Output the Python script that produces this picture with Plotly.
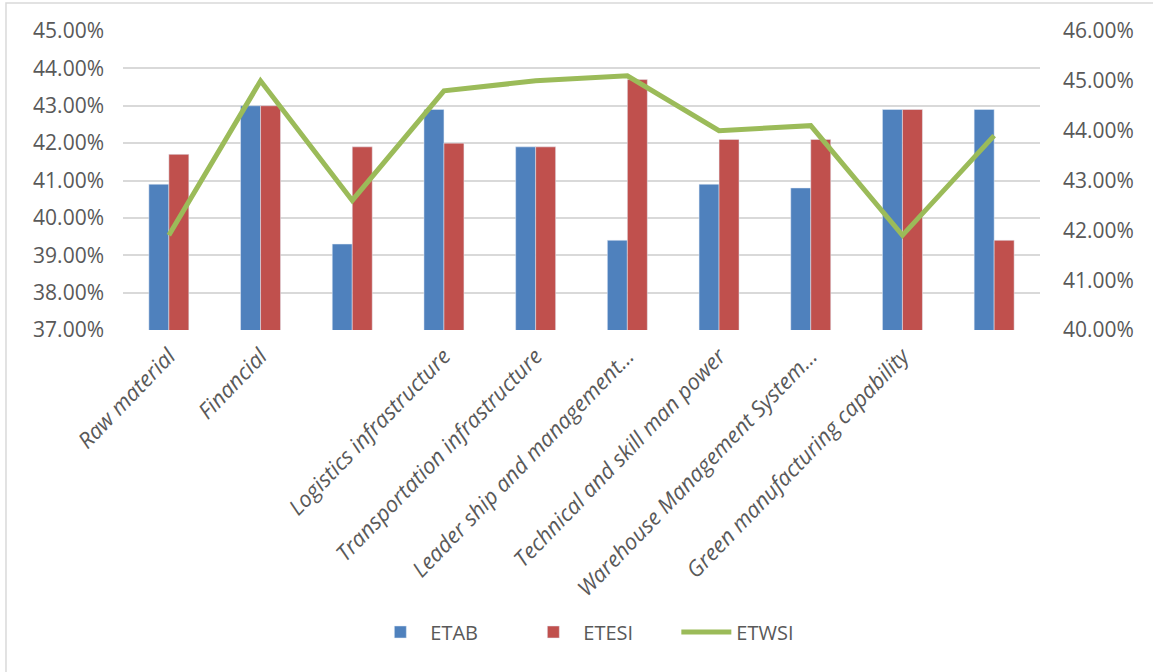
import plotly.graph_objects as go

categories = ["Raw material", "Financial", "", "Logistics infrastructure",
              "Transportation infrastructure", "Leader ship and management…",
              "Technical and skill man power", "Warehouse Management System…",
              "Green manufacturing capability", ""]
etab = [40.9, 43.0, 39.3, 42.9, 41.9, 39.4, 40.9, 40.8, 42.9, 42.9]
etesi = [41.7, 43.0, 41.9, 42.0, 41.9, 43.7, 42.1, 42.1, 42.9, 39.4]
etwsi = [41.9, 45.0, 42.6, 44.8, 45.0, 45.1, 44.0, 44.1, 41.9, 43.9]
left_ticks = [37, 38, 39, 40, 41, 42, 43, 44, 45]
left_labels = ["37.00%", "38.00%", "39.00%", "40.00%", "41.00%", "42.00%", "43.00%", "44.00%", "45.00%"]
right_ticks = [40, 41, 42, 43, 44, 45, 46]
right_labels = ["40.00%", "41.00%", "42.00%", "43.00%", "44.00%", "45.00%", "46.00%"]

idx = list(range(len(categories)))
FONT = "Open Sans"
GREY = "#595959"

fig = go.Figure()
fig.add_trace(go.Bar(x=idx, y=etab, name="ETAB", marker=dict(color="#4f81bd")))
fig.add_trace(go.Bar(x=idx, y=etesi, name="ETESI", marker=dict(color="#c0504d")))
fig.add_trace(go.Scatter(x=idx, y=etwsi, name="ETWSI", mode="lines", yaxis="y2",
                         line=dict(color="#9bbb59", width=5)))

fig.update_layout(
    width=1153, height=672,
    margin=dict(l=123, r=113, t=31, b=342),
    paper_bgcolor="white", plot_bgcolor="white",
    barmode="group", bargap=0.564, bargroupgap=0,
    font=dict(family=FONT, size=21, color=GREY),
    xaxis=dict(range=[-0.5, len(categories) - 0.5], tickvals=idx, ticktext=categories,
               tickangle=-46, tickfont=dict(family=FONT, size=22, color=GREY, style="italic"),
               showgrid=False, showline=False, zeroline=False, ticks="",
               ticklabelstandoff=8),
    yaxis=dict(range=[37, 45], tickvals=left_ticks, ticktext=left_labels,
               gridcolor="#d9d9d9", gridwidth=1.5, zeroline=False, showline=False,
               tickfont=dict(family=FONT, size=21, color=GREY), ticks="",
               ticklabelstandoff=18),
    yaxis2=dict(range=[40, 46], tickvals=right_ticks, ticktext=right_labels,
                overlaying="y", side="right", showgrid=False, zeroline=False, showline=False,
                tickfont=dict(family=FONT, size=21, color=GREY), ticks="",
                ticklabelstandoff=22),
    legend=dict(orientation="h", x=0.52, xanchor="center", y=-1.01, yanchor="middle",
                font=dict(family=FONT, size=20, color=GREY), traceorder="normal",
                itemwidth=50, entrywidth=88, entrywidthmode="pixels"),
    shapes=[dict(type="rect", xref="paper", yref="paper",
                 x0=-0.1276, x1=1.14, y0=-1.2, y1=1.0936,
                 line=dict(color="#d9d9d9", width=1.5), fillcolor="rgba(0,0,0,0)", layer="below")],
    showlegend=True,
)

fig.write_html("out.html")
